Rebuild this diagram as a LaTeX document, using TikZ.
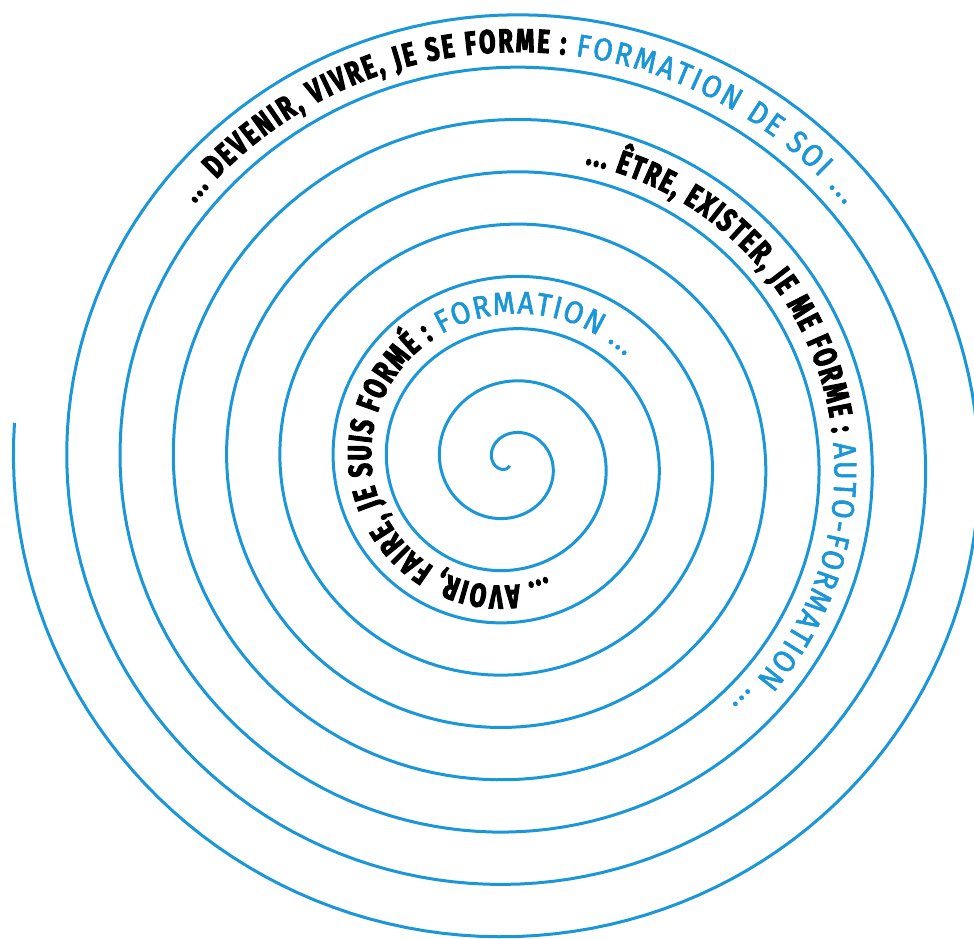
\documentclass[tikz,border=0pt]{standalone}
\usepackage{fontspec}
\usetikzlibrary{decorations.text}
\newfontfamily\blackf[FakeStretch=0.72,FakeBold=3]{Fira Sans}
\newfontfamily\bluef[FakeStretch=0.9,FakeBold=2]{Fira Sans}
\definecolor{spblue}{RGB}{27,150,214}
\tikzset{
  spiralline/.style={spblue, line width=3pt},
}
\begin{document}
\begin{tikzpicture}[x=1pt,y=1pt]
\useasboundingbox (0,0) rectangle (974,938);
\def\cx{509.5}
\def\cy{475.3}
\def\sy{0.982}
\def\k{0.1480556}
\def\bl{18.4}
% spiral
\draw[spiralline] plot[domain=0:3334.7, samples=1500, variable=\t]
  ({\cx+(3+\k*\t)*cos(-90-\t)}, {\cy+\sy*(3+\k*\t)*sin(-90-\t)});
% outer text
\path[decorate, decoration={text along path, text align={fit to path},
  text={|\blackf\bfseries\fontsize{33}{36}\selectfont\color{black}|... DEVENIR, VIVRE, JE SE FORME : |\bluef\mdseries\fontsize{31.5}{36}\selectfont\color{spblue}|FORMATION DE SOI ...}}]
  plot[domain=2650:2752, samples=80, variable=\t]
  ({\cx+(\bl+\k*\t)*cos(-90-\t)}, {\cy+\sy*(\bl+\k*\t)*sin(-90-\t)});
% middle text
\path[decorate, decoration={text along path, text align={fit to path},
  text={|\blackf\bfseries\fontsize{33}{36}\selectfont\color{black}|... ÊTRE, EXISTER, JE ME FORME : |\bluef\mdseries\fontsize{31.5}{36}\selectfont\color{spblue}|AUTO-FORMATION ...}}]
  plot[domain=1994:2118, samples=80, variable=\t]
  ({\cx+(\bl+\k*\t)*cos(-90-\t)}, {\cy+\sy*(\bl+\k*\t)*sin(-90-\t)});
% inner text
\path[decorate, decoration={text along path, text align={fit to path},
  text={|\blackf\bfseries\fontsize{33}{36}\selectfont\color{black}|... AVOIR, FAIRE, JE SUIS FORMÉ : |\bluef\mdseries\fontsize{31.5}{36}\selectfont\color{spblue}|FORMATION ...}}]
  plot[domain=702:947, samples=120, variable=\t]
  ({\cx+(\bl+\k*\t)*cos(-90-\t)}, {\cy+\sy*(\bl+\k*\t)*sin(-90-\t)});
\end{tikzpicture}
\end{document}
